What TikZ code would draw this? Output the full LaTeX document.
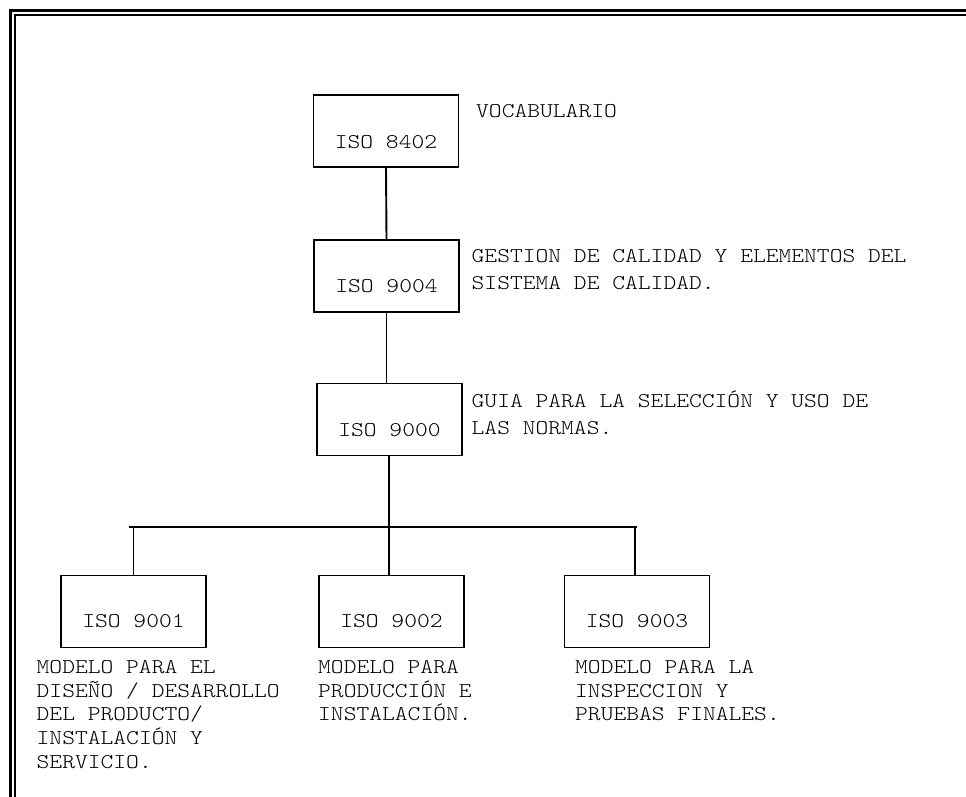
\documentclass[tikz,border=0pt]{standalone}
\usepackage{fontspec}
\setmainfont{Liberation Mono}
% light typewriter face, widened to a 12.8pt advance per character
\newfontfamily\typeface{lmmonolt10-regular.otf}[FakeStretch=1.16]
\usetikzlibrary{calc}

\tikzset{
  stdbox/.style={draw, line width=1.9pt, minimum width=145pt, minimum height=72pt, inner sep=0pt},
  stdname/.style={inner sep=0pt, font=\typeface\fontsize{21}{24}\selectfont},
  note/.style={anchor=base west, inner sep=0pt, align=left, font=\typeface\fontsize{21}{27}\selectfont},
  caption/.style={anchor=base west, inner sep=0pt, align=left, font=\typeface\fontsize{21}{23.75}\selectfont},
  link/.style={line width=1.9pt},
  frameline/.style={line width=2.8pt}
}

\begin{document}
\begin{tikzpicture}[x=1pt, y=-1pt]
  \useasboundingbox (0,0) rectangle (966,797);
  \clip (0,0) rectangle (966,797);
  \fill[white] (0,0) rectangle (966,797);

  % double page frame (open towards right and bottom)
  \draw[frameline] (10.4,820) -- (10.4,10.4) -- (990,10.4);
  \draw[line width=2.5pt] (14.8,820) -- (14.8,14.8) -- (990,14.8);

  % standards boxes
  \node[stdbox] (n8402) at (386,131) {};
  \node[stdbox] (n9004) at (386.5,276) {};
  \node[stdbox] (n9000) at (389.5,419.5) {};
  \node[stdbox] (n9001) at (133.5,611.5) {};
  \node[stdbox] (n9002) at (391.5,611.5) {};
  \node[stdbox] (n9003) at (637,611.5) {};

  % box captions
  \node[stdname] (l8402) at ($(n8402.north)+(0,48)$) {ISO 8402};
  \node[stdname] (l9004) at ($(n9004.north)+(0,47)$) {ISO 9004};
  \node[stdname] (l9000) at ($(n9000.north)+(0,48)$) {ISO 9000};
  \node[stdname] (l9001) at ($(n9001.north)+(0,46.5)$) {ISO 9001};
  \node[stdname] (l9002) at ($(n9002.north)+(0,46.5)$) {ISO 9002};
  \node[stdname] (l9003) at ($(n9003.north)+(0,46.5)$) {ISO 9003};

  % descriptions (base anchor sits on the last line)
  \node[note] (d8402) at (476,117.7) {VOCABULARIO};
  \node[note] (d9004) at (471.5,289.5) {GESTION DE CALIDAD Y ELEMENTOS DEL\\SISTEMA DE CALIDAD.};
  \node[note] (d9000) at (471.5,434.5) {GUIA PARA LA SELECCIÓN Y USO DE\\LAS NORMAS.};
  \node[caption] (d9001) at (36.5,768.3) {MODELO PARA EL\\DISEÑO / DESARROLLO\\DEL PRODUCTO/\\INSTALACIÓN Y\\SERVICIO.};
  \node[caption] (d9002) at (318,720.8) {MODELO PARA\\PRODUCCIÓN E\\INSTALACIÓN.};
  \node[caption] (d9003) at (575,720.8) {MODELO PARA LA\\INSPECCION Y\\PRUEBAS FINALES.};

  % hierarchy connectors
  \draw[link] (n8402.south) -- (n9004.north);
  \draw[link] (n9004.south) -- (n9004.south |- n9000.north);
  \coordinate (busL) at (131,527);
  \coordinate (busM) at (389,527);
  \coordinate (busR) at (635,527);
  \draw[link] (n9000.south -| busM) -- (busM);
  \draw[link] ($(busL)+(-2,0)$) -- ($(busR)+(2,0)$);
  \draw[link] (n9001.north) -- (n9001.north |- busL);
  \draw[link] (n9002.north -| busM) -- (busM);
  \draw[link] (busR) -- (busR |- n9003.north);
\end{tikzpicture}
\end{document}
